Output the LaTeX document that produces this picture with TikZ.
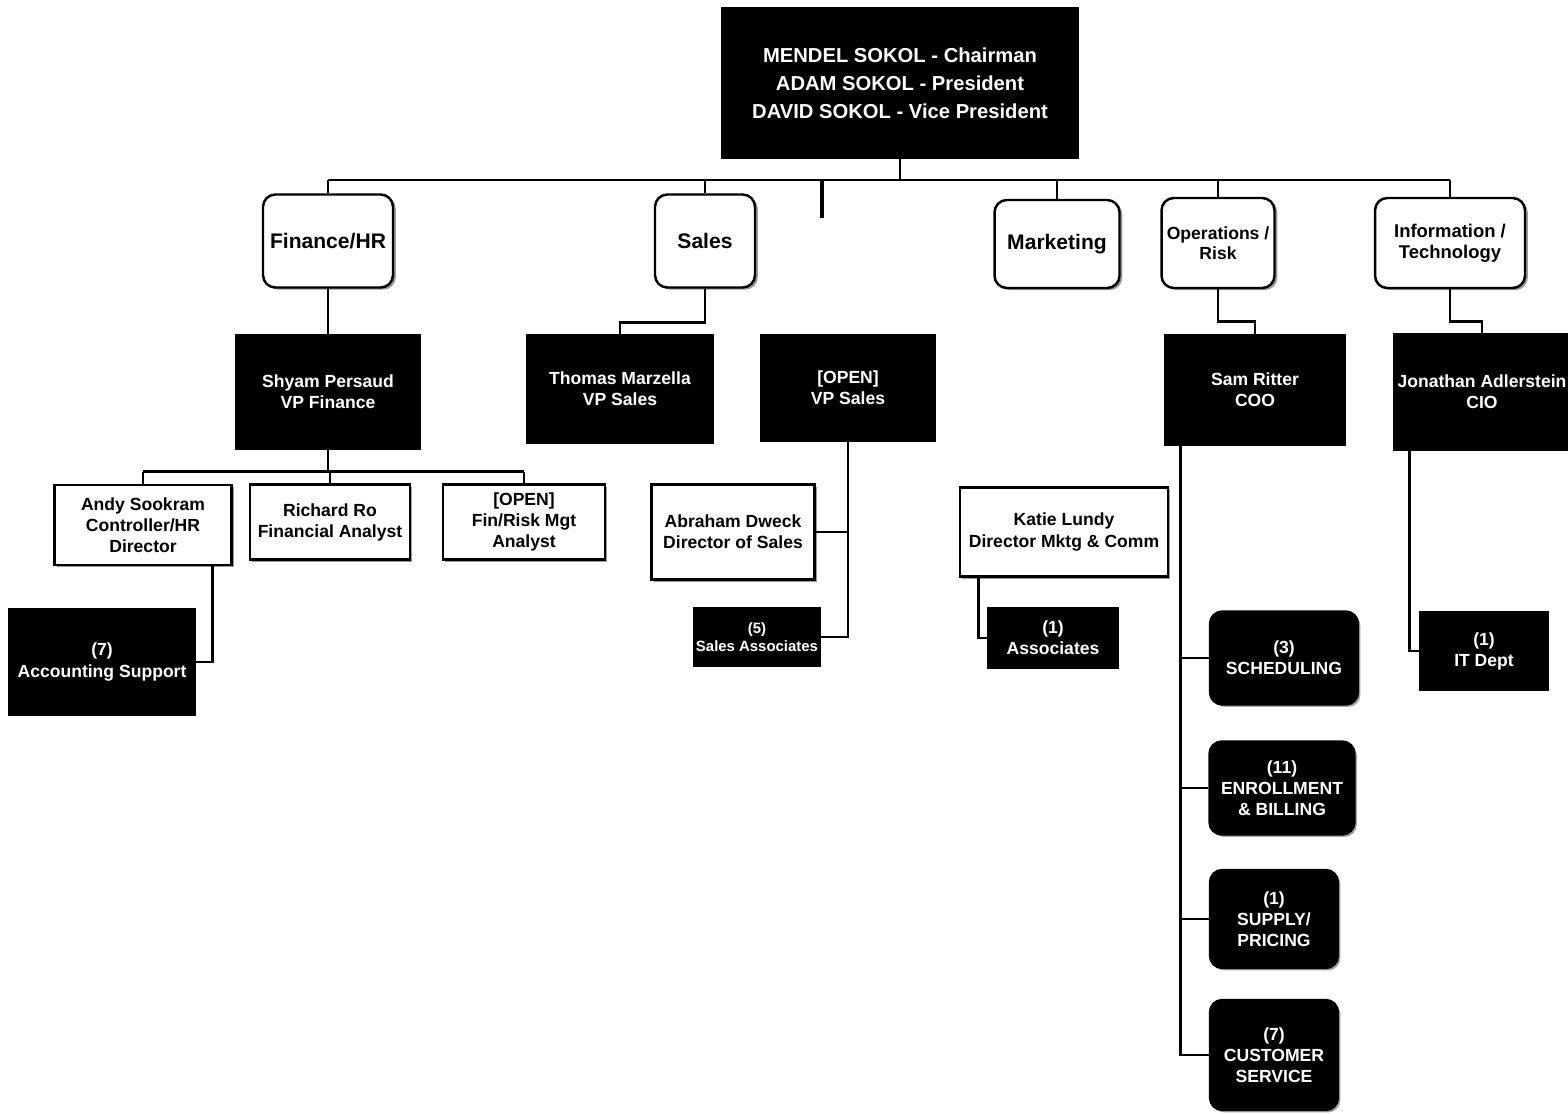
\documentclass[tikz,border=0pt]{standalone}
\usepackage{fontspec}
\setmainfont{Liberation Sans}
\usepackage{tikz}
\usetikzlibrary{positioning, calc, shadows}
\tikzset{
  deptbox/.style={rectangle, draw=black, fill=white, rounded corners=7pt,
    line width=1.4pt, align=center, inner sep=2pt,
    drop shadow={shadow xshift=1.6pt, shadow yshift=-1.2pt, fill=black!80},
    font=\bfseries\fontsize{12}{13}\selectfont},
  namebox/.style={rectangle, draw=black, fill=white, line width=1.4pt,
    align=center, inner sep=2pt,
    drop shadow={shadow xshift=1.4pt, shadow yshift=-1.4pt, fill=black!80},
    font=\bfseries\fontsize{10}{12}\selectfont},
  darkbox/.style={rectangle, draw=black, fill=black, text=white,
    line width=1.4pt, align=center, inner sep=2pt,
    font=\bfseries\fontsize{10}{12}\selectfont},
  darkround/.style={darkbox, rounded corners=7pt,
    drop shadow={shadow xshift=1.4pt, shadow yshift=-1.4pt, fill=black!70}},
  conn/.style={line width=1.6pt, color=black}
}

\begin{document}
\begin{tikzpicture}[x=0.02cm, y=-0.02cm]
  \useasboundingbox (0,0) rectangle (1568,1113);

  % Owners
  \node[darkbox, minimum width=7.1cm, minimum height=3cm,
    font=\bfseries\fontsize{11.5}{16}\selectfont] (chair) at (900,83)
    {MENDEL SOKOL - Chairman\\ADAM SOKOL - President\\DAVID SOKOL - Vice President};

  % Departments
  \node[deptbox, minimum width=2.6cm, minimum height=1.86cm] (finhr) at (328,241) {Finance/HR};
  \node[deptbox, minimum width=2cm, minimum height=1.86cm] (sales) at (705,241) {Sales};
  \node[deptbox, minimum width=2.5cm, minimum height=1.76cm] (mktg) at (1057,244) {Marketing};
  \node[deptbox, minimum width=2.26cm, minimum height=1.8cm,
    font=\bfseries\fontsize{10}{11.5}\selectfont] (ops) at (1218,243) {Operations /\\Risk};
  \node[deptbox, minimum width=3cm, minimum height=1.8cm,
    font=\bfseries\fontsize{10.5}{12}\selectfont] (infotech) at (1450,243) {Information /\\Technology};

  % Bus from the top box
  \coordinate (busL) at (328,180);
  \coordinate (stub) at (822,218);
  \draw[conn] (chair.south) -- (chair.south |- busL);
  \draw[conn] (finhr.north |- busL) -- (infotech.north |- busL);
  \foreach \d in {finhr,sales,mktg,ops,infotech}
    \draw[conn] (\d.north |- busL) -- (\d.north);
  \draw[conn, line width=2.4pt] (stub |- busL) -- (stub);

  % Vice presidents
  \node[darkbox, minimum width=3.66cm, minimum height=2.26cm] (shyam) at (328,392) {Shyam Persaud\\VP Finance};
  \node[darkbox, minimum width=3.7cm, minimum height=2.16cm] (thomas) at (620,389) {Thomas Marzella\\VP Sales};
  \node[darkbox, minimum width=3.46cm, minimum height=2.1cm] (openvp) at (848,388) {[OPEN]\\VP Sales};
  \node[darkbox, minimum width=3.6cm, minimum height=2.2cm] (sam) at (1255,390) {Sam Ritter\\COO};
  \node[darkbox, minimum width=3.5cm, minimum height=2.3cm] (jon) at (1482,392) {Jonathan Adlerstein\\CIO};

  \draw[conn] (finhr.south) -- (shyam.north);
  \draw[conn] (sales.south) -- ++(0,34) -| (thomas.north);
  \draw[conn] (ops.south) -- ++(0,32) -| (sam.north);
  \draw[conn] (infotech.south) -- ++(0,32) -| (jon.north);

  % Finance staff
  \node[namebox, minimum width=3.54cm, minimum height=1.6cm] (andy) at (143,525) {Andy Sookram\\Controller/HR\\Director};
  \node[namebox, minimum width=3.2cm, minimum height=1.5cm] (richard) at (330,522) {Richard Ro\\Financial Analyst};
  \node[namebox, minimum width=3.24cm, minimum height=1.5cm] (finopen) at (524,522) {[OPEN]\\Fin/Risk Mgt\\Analyst};
  \node[darkbox, minimum width=3.7cm, minimum height=2.1cm] (acct) at (102,662) {(7)\\Accounting Support};

  \draw[conn] (shyam.south) -- ++(0,22) coordinate (fbus);
  \draw[conn] (andy.north |- fbus) -- (finopen.north |- fbus);
  \foreach \n in {andy,richard,finopen}
    \draw[conn] (\n.north |- fbus) -- (\n.north);
  \draw[conn] ($(andy.south east)+(-20,0)$) |- (acct.east);

  % Sales staff
  \node[namebox, minimum width=3.26cm, minimum height=1.9cm] (abraham) at (733,532) {Abraham Dweck\\Director of Sales};
  \node[darkbox, minimum width=2.5cm, minimum height=1.14cm, inner sep=1pt,
    font=\bfseries\fontsize{8.5}{10}\selectfont] (salesas) at (757,637) {(5)\\Sales Associates};

  \draw[conn] (openvp.south) |- (salesas.east);
  \draw[conn] (abraham.east) -- (abraham.east -| openvp.south);

  % Marketing staff
  \node[namebox, minimum width=4.16cm, minimum height=1.78cm] (katie) at (1064,532) {Katie Lundy\\Director Mktg \& Comm};
  \node[darkbox, minimum width=2.6cm, minimum height=1.2cm] (assoc) at (1053,638) {(1)\\Associates};

  \draw[conn] ($(katie.south west)+(20,0)$) |- (assoc.west);

  % Operations teams
  \node[darkround, minimum width=2.96cm, minimum height=1.86cm] (sched) at (1284,658) {(3)\\SCHEDULING};
  \node[darkround, minimum width=2.9cm, minimum height=1.86cm] (enroll) at (1282,788) {(11)\\ENROLLMENT\\\& BILLING};
  \node[darkround, minimum width=2.56cm, minimum height=1.96cm] (supply) at (1274,919) {(1)\\SUPPLY/\\PRICING};
  \node[darkround, minimum width=2.56cm, minimum height=2.2cm] (custsvc) at (1274,1055) {(7)\\CUSTOMER\\SERVICE};

  \coordinate (opsline) at ($(sam.south west)+(17,0)$);
  \draw[conn] (opsline) |- (custsvc.west);
  \foreach \n in {sched,enroll,supply}
    \draw[conn] (\n.west) -- (\n.west -| opsline);

  % IT staff
  \node[darkbox, minimum width=2.56cm, minimum height=1.56cm] (itdept) at (1484,651) {(1)\\IT Dept};

  \draw[conn] ($(jon.south west)+(17,0)$) |- (itdept.west);
\end{tikzpicture}
\end{document}
